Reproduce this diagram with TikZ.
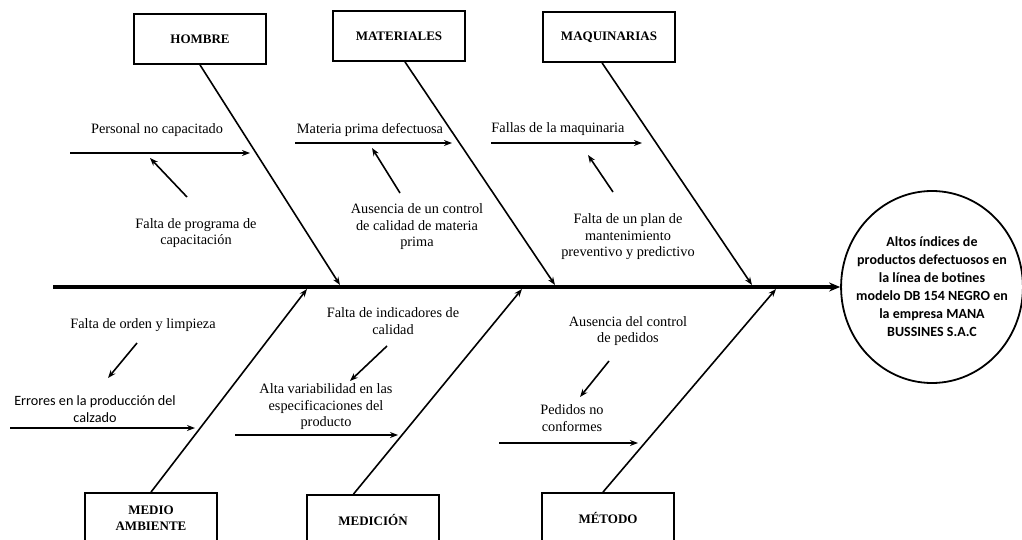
\documentclass[tikz,border=0pt]{standalone}
\usepackage{fontspec}
\setmainfont{Liberation Serif}
\newfontfamily\calibri{Carlito}
\usetikzlibrary{arrows.meta,shapes.geometric}

\begin{document}
\begin{tikzpicture}[x=1pt, y=-1pt, line width=1.6pt, >={Stealth[length=8pt,width=6pt]},
  main/.style = {draw, line width=1.8pt, minimum width=132pt, minimum height=50pt, inner sep=0pt, align=center, font=\fontsize{13}{15.5}\selectfont\bfseries},
  txt/.style = {inner sep=0pt, align=center, font=\fontsize{14.3}{16.5}\selectfont},
  efecto/.style = {draw, ellipse, line width=1.8pt, inner xsep=-11.5pt, inner ysep=14pt, minimum width=180pt, minimum height=192pt, align=center, font=\calibri\bfseries\fontsize{14}{18}\selectfont}]
\clip (0,0) rectangle (1022,540);

\node[main] (hom) at (200,39) {HOMBRE};
\node[main] (mat) at (399,36) {MATERIALES};
\node[main] (maq) at (609,37) {MAQUINARIAS};
\node[main] (med) at (151,518) {MEDIO\\AMBIENTE};
\node[main] (mec) at (373,520) {MEDICIÓN};
\node[main] (met) at (608,518) {MÉTODO};
\node[efecto] (ef) at (932,287) {Altos índices de\\productos defectuosos en\\la línea de botines\\modelo DB 154 NEGRO en\\la empresa MANA\\BUSSINES S.A.C};

\coordinate (s0) at (53,287);
\coordinate (shom) at (340,285);
\coordinate (smat) at (555,285);
\coordinate (smaq) at (752,285);
\coordinate (smed) at (307,289);
\coordinate (smec) at (522,289);
\coordinate (smet) at (776,289);

\draw[line width=3.5pt, -{Stealth[length=11pt,width=9pt]}] (s0) -- (ef);
\draw[->] (hom.south) -- (shom);
\draw[->] (mat.-77) -- (smat);
\draw[->] (maq.-105) -- (smaq);
\draw[->] (med.north) -- (smed);
\draw[->] (mec.127) -- (smec);
\draw[->] (met.101) -- (smet);

\node[txt] (h1) at (157,130) {Personal no capacitado};
\node[txt] (h2) at (196,233) {Falta de programa de\\capacitación};
\node[txt] (m1) at (370,130) {Materia prima defectuosa};
\node[txt] (m2) at (417,227) {Ausencia de un control\\de calidad de materia\\prima};
\node[txt] (q1) at (558,129) {Fallas de la maquinaria};
\node[txt] (q2) at (628,237) {Falta de un plan de\\mantenimiento\\preventivo y predictivo};
\node[txt] (a1) at (143,325) {Falta de orden y limpieza};
\node[txt, font=\calibri\fontsize{14.2}{17}\selectfont] (a2) at (95,409) {Errores en la producción del\\calzado};
\node[txt] (d1) at (393,321) {Falta de indicadores de\\calidad};
\node[txt] (d2) at (326,407) {Alta variabilidad en las\\especificaciones del\\producto};
\node[txt] (t1) at (628,331) {Ausencia del control\\de pedidos};
\node[txt] (t2) at (572,418) {Pedidos no\\conformes};

\coordinate (h1a) at (70,153);
\coordinate (h1b) at (250,153);
\coordinate (h2a) at (187,197);
\coordinate (h2b) at (150,158);
\coordinate (m1a) at (295,143);
\coordinate (m1b) at (452,143);
\coordinate (m2a) at (400,193);
\coordinate (m2b) at (372,148);
\coordinate (q1a) at (491,143);
\coordinate (q1b) at (642,143);
\coordinate (q2a) at (613,192);
\coordinate (q2b) at (588,155);
\coordinate (a1a) at (137,343);
\coordinate (a1b) at (108,378);
\coordinate (a2a) at (10,428);
\coordinate (a2b) at (195,428);
\coordinate (d1a) at (387,346);
\coordinate (d1b) at (350,381);
\coordinate (d2a) at (235,435);
\coordinate (d2b) at (398,435);
\coordinate (t1a) at (609,361);
\coordinate (t1b) at (580,397);
\coordinate (t2a) at (499,443);
\coordinate (t2b) at (638,443);

\draw[->] (h1a) -- (h1b);
\draw[->] (h2a) -- (h2b);
\draw[->] (m1a) -- (m1b);
\draw[->] (m2a) -- (m2b);
\draw[->] (q1a) -- (q1b);
\draw[->] (q2a) -- (q2b);
\draw[->] (a1a) -- (a1b);
\draw[->] (a2a) -- (a2b);
\draw[->] (d1a) -- (d1b);
\draw[->] (d2a) -- (d2b);
\draw[->] (t1a) -- (t1b);
\draw[->] (t2a) -- (t2b);

\end{tikzpicture}
\end{document}
